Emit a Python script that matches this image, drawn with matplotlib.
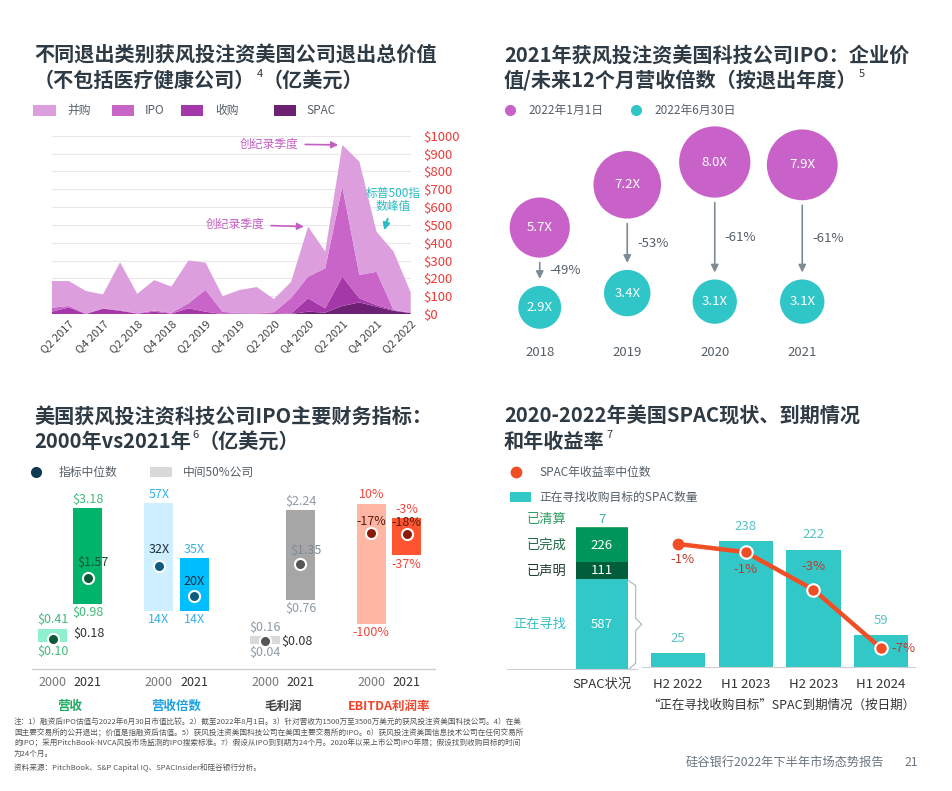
import matplotlib
matplotlib.use('Agg')
import matplotlib.pyplot as plt
import numpy as np
from matplotlib.patches import Rectangle

plt.rcParams['font.family'] = ['Noto Sans CJK SC', 'DejaVu Sans']
plt.rcParams['axes.unicode_minus'] = False

# ---------------- data ----------------
quarters = ['Q1 2017', 'Q2 2017', 'Q3 2017', 'Q4 2017', 'Q1 2018', 'Q2 2018', 'Q3 2018', 'Q4 2018',
            'Q1 2019', 'Q2 2019', 'Q3 2019', 'Q4 2019', 'Q1 2020', 'Q2 2020', 'Q3 2020', 'Q4 2020',
            'Q1 2021', 'Q2 2021', 'Q3 2021', 'Q4 2021', 'Q1 2022', 'Q2 2022']
exit_types = ['并购', 'IPO', '收购', 'SPAC']
ma_vals = [150, 140, 126, 78, 268, 109, 170, 148, 240, 153, 88, 130, 147, 74, 90, 280, 94, 234, 635, 225, 328, 112]
ipo_vals = [22, 8, 3, 2, 4, 2, 7, 4, 28, 122, 12, 3, 2, 5, 88, 122, 224, 504, 131, 187, 0, 4]
buyout_vals = [13, 37, 0, 30, 18, 2, 13, 2, 32, 13, 0, 2, 2, 5, 2, 75, 24, 165, 23, 9, 4, 0]
spac_vals = [0, 0, 0, 0, 0, 0, 0, 0, 0, 0, 0, 0, 0, 0, 0, 13, 8, 45, 65, 41, 18, 5]
y_ticks_area = [0, 100, 200, 300, 400, 500, 600, 700, 800, 900, 1000]

exit_years = ['2018', '2019', '2020', '2021']
mult_jan = [5.7, 7.2, 8.0, 7.9]
mult_jun = [2.9, 3.4, 3.1, 3.1]
bubble_legend = ['2022年1月1日', '2022年6月30日']

fin_metrics = ['营收', '营收倍数', '毛利润', 'EBITDA利润率']
fin_years = ['2000', '2021']
rev_low, rev_high, rev_med = [0.10, 0.98], [0.41, 3.18], [0.18, 1.57]
mult_low, mult_high, mult_med = [14, 14], [57, 35], [32, 20]
gp_low, gp_high, gp_med = [0.04, 0.76], [0.16, 2.24], [0.08, 1.35]
eb_low, eb_high, eb_med = [-100, -37], [10, -3], [-17, -18]

status_labels = ['正在寻找', '已声明', '已完成', '已清算']
status_counts = [587, 111, 226, 7]
expiry_periods = ['H2 2022', 'H1 2023', 'H2 2023', 'H1 2024']
expiry_counts = [25, 238, 222, 59]
spac_return = [-0.6, -1.1, -3.4, -7.0]

# ---------------- figure helpers ----------------
W, H = 953, 791
fig = plt.figure(figsize=(W / 100, H / 100), dpi=100)
fig.patch.set_facecolor('white')


def ax_px(x0, y0, x1, y1):
    a = fig.add_axes([x0 / W, 1 - y1 / H, (x1 - x0) / W, (y1 - y0) / H])
    a.patch.set_alpha(0)
    return a


def clean(a):
    for s in a.spines.values():
        s.set_visible(False)


TC = '#2e3a44'
GRAY = '#555f66'

# ================= Panel 1: stacked area =================
ax1 = ax_px(51.7, 135.7, 410.7, 314)
xq = np.arange(len(quarters))
area_colors = {'并购': '#dc9edc', 'IPO': '#c964c9', '收购': '#a538a8', 'SPAC': '#6c2172'}
ax1.stackplot(xq, spac_vals, buyout_vals, ipo_vals, ma_vals,
              colors=[area_colors['SPAC'], area_colors['收购'], area_colors['IPO'], area_colors['并购']],
              linewidth=0)
ax1.set_xlim(0, len(quarters) - 1)
ax1.set_ylim(0, 1000)
ax1.set_yticks(y_ticks_area)
ax1.set_yticklabels([f'${v}' for v in y_ticks_area])
ax1.yaxis.tick_right()
ax1.tick_params(axis='y', length=0, pad=9, labelsize=9.5, labelcolor='#ee3a3a')
ax1.set_xticks(xq[1::2])
ax1.set_xticklabels(quarters[1::2], rotation=45, ha='right', rotation_mode='anchor')
ax1.tick_params(axis='x', length=0, pad=3, labelsize=8, labelcolor='#444')
ax1.grid(axis='y', color='#e8e8e8', lw=0.8)
ax1.set_axisbelow(True)
clean(ax1)
totals = [a + b + c + d for a, b, c, d in zip(ma_vals, ipo_vals, buyout_vals, spac_vals)]
rec_col = '#c35fc3'
for qi, dy in [(int(np.argmax(totals)), 1), (15, 2)]:
    ax1.annotate('创纪录季度', xy=(qi, totals[qi]), xytext=(-44, dy), textcoords='offset pixels',
                 ha='right', va='center', fontsize=8.5, color=rec_col,
                 arrowprops=dict(arrowstyle='-|>', color=rec_col, lw=1.2, shrinkA=3, shrinkB=3,
                                 mutation_scale=10))
teal_c = '#2cbcc5'
ax1.annotate('标普500指\n数峰值', xy=(19.45, 470), xytext=(9, 30), textcoords='offset pixels',
             ha='center', va='center', fontsize=8.5, color=teal_c, linespacing=1.05,
             arrowprops=dict(arrowstyle='-|>', color=teal_c, lw=1.5, shrinkA=2, shrinkB=0,
                             mutation_scale=10))

# ================= Panel 2: bubbles =================
PURPLE = '#c862c8'
TEAL = '#30c6c8'
px_per_unit = 28.5
ax2 = ax_px(496, 120, 846, 390)
ax2.set_xlim(-0.5, 3.5)
ax2.set_ylim(0, 270 / px_per_unit)
ax2.axis('off')
xi = np.arange(len(exit_years))
ax2.scatter(xi, mult_jan, s=[329 * v for v in mult_jan], color=PURPLE, lw=0)
ax2.scatter(xi, mult_jun, s=[329 * v for v in mult_jun], color=TEAL, lw=0)
for i, (a, b) in enumerate(zip(mult_jan, mult_jun)):
    ax2.text(i, a, f'{a:.1f}X', ha='center', va='center', color='white', fontsize=9.5)
    ax2.text(i, b, f'{b:.1f}X', ha='center', va='center', color='white', fontsize=9.5)
    ra = 12.6 * np.sqrt(a)
    rb = 12.6 * np.sqrt(b)
    y0 = a - (ra + 5) / px_per_unit
    y1 = b + (rb + 7) / px_per_unit
    ax2.annotate('', xy=(i, y1), xytext=(i, y0),
                 arrowprops=dict(arrowstyle='-|>', color='#7d8b94', lw=1.2, shrinkA=0, shrinkB=0,
                                 mutation_scale=11))
    pct = round((b / a - 1) * 100)
    ax2.annotate(f'{pct}%', xy=(i, (y0 + y1) / 2), xytext=(10, 0), textcoords='offset pixels',
                 ha='left', va='center', fontsize=9.5, color='#555f66')
    ax2.text(i, 37.3 / px_per_unit, exit_years[i], ha='center', va='center', fontsize=9.5, color='#555f66')

# ================= Panel 3: floating bars =================
fin_sets = [(rev_low, rev_high, rev_med), (mult_low, mult_high, mult_med),
            (gp_low, gp_high, gp_med), (eb_low, eb_high, eb_med)]
fin_ylims = [(-0.524, 3.828), (-9.44, 66.28), (-0.38, 2.734), (-141.7, 32.0)]
fin_bar_colors = [('#8ff0cf', '#00b56b'), ('#cdefff', '#00bfff'), ('#d9d9d9', '#a6a6a6'), ('#ffb7a3', '#ff5530')]
fin_lbl_colors = ['#3dbb7a', '#35b0e8', '#8d9ba6', '#f0463a']
fin_dot_colors = ['#0b5a38', '#0d5b7e', '#555555', '#8b1a0a']
fin_med_colors = [('#333333', '#1d4d36'), ('#1e2e3a', '#1e2e3a'), ('#333333', '#7d8a94'), ('#5a1a10', '#5a1a10')]
fin_cat_colors = ['#1faa5f', '#1ba1e2', '#444444', '#f0442c']
fin_fmt = [lambda v: f'${v:.2f}', lambda v: f'{v}X', lambda v: f'${v:.2f}', lambda v: f'{v}%']
# median label offsets (pixels) and alignment
med_off = [[(21, 5, 'left'), (5, 16, 'center')], [(0, 16, 'center'), (0, 14, 'center')],
           [(16, 0, 'left'), (5, 14, 'center')], [(0, 12, 'center'), (0, 12, 'center')]]

fin_axes = []
for g, (lo, hi, md) in enumerate(fin_sets):
    a = ax_px(31.7, 480, 435, 669.3)
    fin_axes.append(a)
    a.set_xlim(-0.588, 10.8)
    a.set_ylim(*fin_ylims[g])
    clean(a)
    a.set_yticks([])
    xs = [g * 3 + j for j in range(2)]
    a.bar(xs, [h - l for h, l in zip(hi, lo)], bottom=lo, width=0.82,
          color=fin_bar_colors[g], lw=0)
    for j in range(2):
        a.plot(xs[j], md[j], 'o', ms=8, mfc=fin_dot_colors[g], mec='white', mew=1.5, zorder=5)
        a.annotate(fin_fmt[g](hi[j]), xy=(xs[j], hi[j]), xytext=(0, 9), textcoords='offset pixels',
                   ha='center', va='center', fontsize=9, color=fin_lbl_colors[g])
        a.annotate(fin_fmt[g](lo[j]), xy=(xs[j], lo[j]), xytext=(0, -9), textcoords='offset pixels',
                   ha='center', va='center', fontsize=9, color=fin_lbl_colors[g])
        ox, oy, ha = med_off[g][j]
        a.annotate(fin_fmt[g](md[j]), xy=(xs[j], md[j]), xytext=(ox, oy), textcoords='offset pixels',
                   ha=ha, va='center', fontsize=9, color=fin_med_colors[g][j], zorder=6)
    a.text(g * 3 + 0.5, -0.194, fin_metrics[g], transform=a.get_xaxis_transform(),
           ha='center', va='center', fontsize=9, fontweight='bold', color=fin_cat_colors[g])
    if g == 0:
        a.spines['bottom'].set_visible(True)
        a.spines['bottom'].set_color('#d0d0d0')
        a.spines['bottom'].set_linewidth(1)
        ticks = [gg * 3 + j for gg in range(4) for j in range(2)]
        a.set_xticks(ticks)
        a.set_xticklabels(fin_years * 4)
        a.tick_params(axis='x', length=0, pad=5, labelsize=9)
        for k, t in enumerate(a.get_xticklabels()):
            t.set_color('#777777' if k % 2 == 0 else '#333333')
    else:
        a.set_xticks([])

# ================= Panel 4: SPAC =================
SP_TEAL = '#33c8c8'
RED = '#f04e25'
ax4a = ax_px(506.7, 480, 636.7, 669.3)
ax4a.set_xlim(-1.81, 0.66)
ax4a.set_ylim(0, 1237)
clean(ax4a)
ax4a.spines['bottom'].set_visible(True)
ax4a.spines['bottom'].set_color('#d0d0d0')
ax4a.set_yticks([])
status_colors = [SP_TEAL, '#005f3a', '#00955a', '#3aa86b']
status_txt_colors = ['#33bfc4', '#1d3b2c', '#1e6b45', '#2f9e63']
bot = 0
for k, (lab, c) in enumerate(zip(status_labels, status_counts)):
    ax4a.bar(0, c, bottom=bot, width=1.0, color=status_colors[k], lw=0)
    if k < 3:
        yc = bot + c / 2
        ax4a.text(0, yc, str(c), ha='center', va='center', color='white', fontsize=9.5)
        ax4a.annotate(lab, xy=(-0.5, yc), xytext=(-9, 0), textcoords='offset pixels',
                      ha='right', va='center', fontsize=9.5, color=status_txt_colors[k])
    else:
        ax4a.annotate(str(c), xy=(0, bot + c), xytext=(0, 7), textcoords='offset pixels',
                      ha='center', va='center', fontsize=9.5, color='#3fb0a8')
        ax4a.annotate(lab, xy=(-0.5, bot + c), xytext=(-9, 7), textcoords='offset pixels',
                      ha='right', va='center', fontsize=9.5, color=status_txt_colors[k])
    bot += c
# brace next to the "searching" segment
s0 = status_counts[0]
ax4a.plot([0.51, 0.64, 0.64, 0.755, 0.64, 0.64, 0.51],
          [s0 - 8, s0 - 40, s0 / 2 + 40, s0 / 2, s0 / 2 - 40, 40, 0],
          color='#9fb8bc', lw=0.8, clip_on=False)
ax4a.set_xticks([0])
ax4a.set_xticklabels(['SPAC状况'])
ax4a.tick_params(axis='x', length=0, pad=6, labelsize=9.5, labelcolor='#333')

ax4b = ax_px(641.7, 480, 915, 666.5)
ax4b.set_xlim(-0.536, 3.5)
ax4b.set_ylim(0, 353.9)
clean(ax4b)
ax4b.spines['bottom'].set_visible(True)
ax4b.spines['bottom'].set_color('#d0d0d0')
ax4b.set_yticks([])
xe = np.arange(len(expiry_periods))
ax4b.bar(xe, expiry_counts, width=0.8, color=SP_TEAL, lw=0)
for i, v in enumerate(expiry_counts):
    ax4b.annotate(str(v), xy=(i, v), xytext=(0, 15), textcoords='offset pixels',
                  ha='center', va='center', fontsize=9.5, color='#55c3c6')
ax4b.set_xticks(xe)
ax4b.set_xticklabels(expiry_periods)
ax4b.tick_params(axis='x', length=0, pad=8, labelsize=9.5, labelcolor='#333')
ax4c = ax4b.twinx()
ax4c.set_ylim(-8.12, 3.33)
clean(ax4c)
ax4c.set_yticks([])
ax4c.plot(xe, spac_return, color=RED, lw=3.2, solid_capstyle='round', zorder=3)
ax4c.plot(xe[:1], spac_return[:1], 'o', ms=8.5, color=RED, mew=0, zorder=4)
ax4c.plot(xe[1:], spac_return[1:], 'o', ms=9, mfc=RED, mec='white', mew=1.5, zorder=4)
ret_off = [(4, -15, 'center'), (0, -17, 'center'), (0, 23, 'center'), (10, 0, 'left')]
for i, v in enumerate(spac_return):
    ox, oy, ha = ret_off[i]
    ax4c.annotate(f'{round(v):.0f}%', xy=(i, v), xytext=(ox, oy), textcoords='offset pixels',
                  ha=ha, va='center', fontsize=9.5, color='#c0392b', zorder=6)

# ================= canvas: titles, legends, notes =================
cv = fig.add_axes([0, 0, 1, 1])
cv.set_xlim(0, W)
cv.set_ylim(H, 0)
cv.axis('off')
cv.patch.set_alpha(0)


def title2(x, y1, l1, y2, main, sup=None, rest=None):
    kw = dict(fontsize=14.5, fontweight='bold', color=TC, ha='left', va='center')
    cv.text(x, y1, l1, **kw)
    t = cv.text(x, y2, main, **kw)
    if sup:
        s = cv.annotate(sup, xy=(1, 0.78), xycoords=t, xytext=(1, 0), textcoords='offset points',
                        fontsize=8, color=TC, ha='left', va='center')
        if rest:
            cv.annotate(rest, xy=(1, 0.5), xycoords=(s, t), xytext=(0, 0), textcoords='offset points',
                        **{k: v for k, v in kw.items() if k not in ('ha', 'va')}, ha='left', va='center')


title2(34, 55, '不同退出类别获风投注资美国公司退出总价值', 80, '（不包括医疗健康公司）', '4', '（亿美元）')
title2(504, 55, '2021年获风投注资美国科技公司IPO：企业价', 80, '值/未来12个月营收倍数（按退出年度）', '5')
title2(34, 416, '美国获风投注资科技公司IPO主要财务指标：', 441, '2000年vs2021年', '6', '（亿美元）')
title2(504, 416, '2020-2022年美国SPAC现状、到期情况', 441, '和年收益率', '7')

# panel 1 legend
leg1_x = [(33.3, 67.3), (112, 145), (181, 215), (274, 306.7)]
for (sx, tx), name in zip(leg1_x, exit_types):
    cv.add_patch(Rectangle((sx, 105), 22.5, 11, color=area_colors[name], lw=0))
    cv.text(tx, 110.5, name, fontsize=8.5, color=GRAY, ha='left', va='center')

# panel 2 legend
for (dx, tx), lab, c in zip([(510, 528), (636, 654)], bubble_legend, [PURPLE, TEAL]):
    cv.plot(dx, 110, 'o', ms=8, color=c, mew=0)
    cv.text(tx, 110, lab, fontsize=8.5, color=GRAY, ha='left', va='center')

# panel 3 legend
cv.plot(35.7, 472.3, 'o', ms=8, color='#0d3a52', mew=0)
cv.text(58.3, 472.3, '指标中位数', fontsize=8.5, color=GRAY, ha='left', va='center')
cv.add_patch(Rectangle((150, 466.7), 21.7, 10, color='#d9d9d9', lw=0))
cv.text(183.3, 472.3, '中间50%公司', fontsize=8.5, color=GRAY, ha='left', va='center')

# panel 4 legend
cv.plot(515.7, 472.3, 'o', ms=8.5, color=RED, mew=0)
cv.text(539.3, 472.3, 'SPAC年收益率中位数', fontsize=8.5, color=GRAY, ha='left', va='center')
cv.add_patch(Rectangle((510, 491.7), 20.7, 10.6, color=SP_TEAL, lw=0))
cv.text(539.3, 497, '正在寻找收购目标的SPAC数量', fontsize=8.5, color=GRAY, ha='left', va='center')
cv.text(781.7, 705, '“正在寻找收购目标”SPAC到期情况（按日期）', fontsize=9, color='#333',
        ha='center', va='center')

# notes
notes = ['注：1）融资后IPO估值与2022年6月30日市值比较。2）截至2022年8月1日。3）针对营收为1500万至3500万美元的获风投注资美国科技公司。4）在美',
         '国主要交易所的公开退出；价值是指融资后估值。5）获风投注资美国科技公司在美国主要交易所的IPO。6）获风投注资美国信息技术公司在任何交易所',
         '的IPO；采用PitchBook-NVCA风投市场监测的IPO搜索标准。7）假设从IPO到到期为24个月。2020年以来上市公司IPO年限；假设找到收购目标的时间',
         '为24个月。']
for k, line in enumerate(notes):
    cv.text(14, 723 + k * 10.3, line, fontsize=5.5, color='#555', ha='left', va='center')
cv.text(14, 767.5, '资料来源：PitchBook、S&P Capital IQ、SPACInsider和硅谷银行分析。', fontsize=5.5,
        color='#555', ha='left', va='center')
cv.text(884, 762, '硅谷银行2022年下半年市场态势报告', fontsize=8.8, color='#6a7580', ha='right', va='center')
cv.text(911, 762, '21', fontsize=8.8, color='#6a7580', ha='center', va='center')

fig.savefig('out.png', dpi=100, facecolor='white')
